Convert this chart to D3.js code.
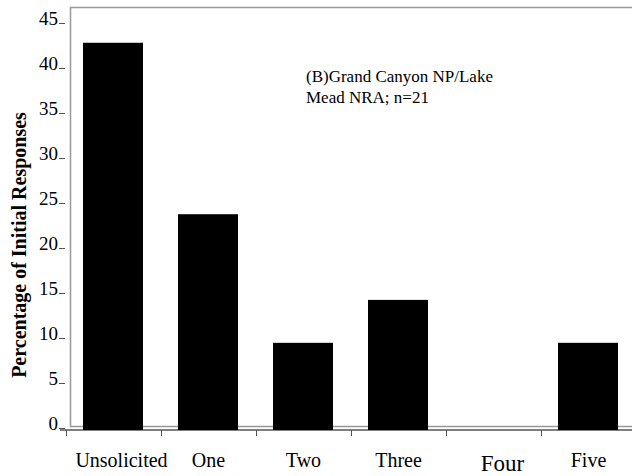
<!DOCTYPE html>
<html><head><meta charset="utf-8">
<script src="https://cdn.jsdelivr.net/npm/d3@7/dist/d3.min.js"></script>
<style>body{margin:0;background:#fff}svg{display:block}</style>
</head><body>
<svg id="c" width="632" height="476" font-family="'Liberation Serif', 'Times New Roman', serif"></svg>
<script>
const categories = ["Unsolicited","One","Two","Three","Four","Five"];
const values = [42.86, 23.81, 9.52, 14.29, 0, 9.52];
const yTicks = [0,5,10,15,20,25,30,35,40,45];
const yLabel = "Percentage of Initial Responses";
const noteLines = ["(B)Grand Canyon NP/Lake","Mead NRA; n=21"];

const svg = d3.select("#c");
const xt = d3.scaleBand().domain(categories).range([66, 636]);
const y = d3.scaleLinear().domain([0,45]).range([428.5, 23.5]);

// gray frame
svg.append("path").attr("d", `M640,7.5H70.5V426.5H640`).attr("fill","none").attr("stroke","#999").attr("stroke-width",1.5);

// bars
svg.selectAll("rect.bar").data(values.filter(v=>v>0).length ? values : values).join("rect").attr("class","bar")
  .attr("x",(d,i)=>xt(categories[i])+17).attr("width",60)
  .attr("y",d=>y(d)).attr("height",d=>d>0 ? (430 - y(d)) : 0)
  .attr("fill","#000");

// x axis line and ticks
svg.append("line").attr("x1",60).attr("x2",640).attr("y1",430).attr("y2",430).attr("stroke","#000").attr("stroke-width",1.2);
svg.selectAll("line.xt").data(categories).join("line").attr("class","xt")
  .attr("x1",d=>xt(d)+0.5).attr("x2",d=>xt(d)+0.5).attr("y1",430).attr("y2",436)
  .attr("stroke","#555").attr("stroke-width",1);
const labelShift = {Unsolicited: 8, Four: 9};
svg.selectAll("text.xl").data(categories).join("text").attr("class","xl")
  .attr("x",d=>xt(d)+xt.bandwidth()/2 + (labelShift[d]||0))
  .attr("y",d=>d==="Four"?471:467)
  .attr("text-anchor","middle")
  .attr("font-size",d=>d==="Four"?23:20)
  .text(d=>d);

// y ticks
svg.selectAll("line.yt").data(yTicks).join("line").attr("class","yt")
  .attr("x1",59).attr("x2",65).attr("y1",d=>y(d)).attr("y2",d=>y(d))
  .attr("stroke","#555").attr("stroke-width",1);
svg.selectAll("text.yl").data(yTicks).join("text").attr("class","yl")
  .attr("x",58).attr("y",d=>y(d)+1).attr("text-anchor","end")
  .attr("font-size",19).text(d=>d);

// y label
svg.append("text").attr("transform","translate(26,245) rotate(-90)")
  .attr("text-anchor","middle").attr("font-size",20).attr("font-weight","bold").text(yLabel);

// note
svg.selectAll("text.note").data(noteLines).join("text").attr("class","note")
  .attr("x",306).attr("y",(d,i)=>82+i*21).attr("font-size",17).text(d=>d);
</script>
</body></html>
